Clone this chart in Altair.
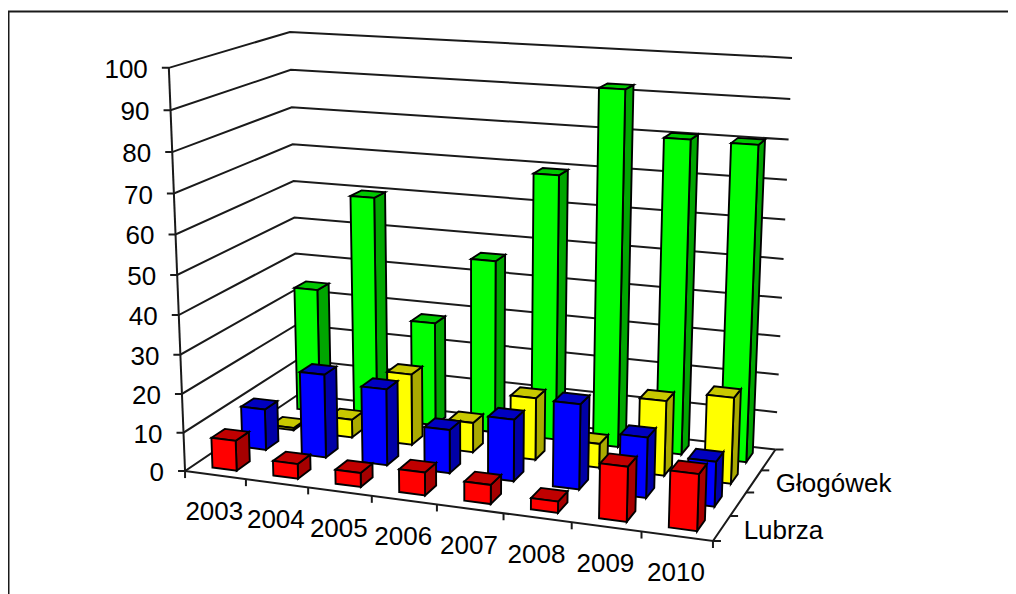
import numpy as np
import pandas as pd
import altair as alt

years = ["2003", "2004", "2005", "2006", "2007", "2008", "2009", "2010"]
depth_labels = ["Lubrza", "", "Głogówek", ""]
red = [7.8, 3.8, 3.6, 5.8, 4.8, 2.8, 13.5, 13.8]
blue = [10.8, 21.8, 19.8, 11.2, 15.8, 21.6, 15.2, 11.2]
yellow = [0.6, 4.8, 18.8, 7.8, 16.2, 6.2, 19.2, 21.9]
green = [33.8, 60, 27.9, 46, 69.5, 92, 80.7, 80.5]
y_ticks = [0, 10, 20, 30, 40, 50, 60, 70, 80, 90, 100]

series = [red, blue, yellow, green]
front_cols = ["#ff0000", "#0000ff", "#ffff00", "#00ff00"]
top_cols = ["#c00000", "#0000c0", "#c8c800", "#00c800"]
side_cols = ["#a60000", "#0000a6", "#aaaa00", "#00a600"]

# Calibration of the 3D view: (x, depth, value) in unit cube -> page pixels
view_u = [0, 1, 1, 0, 0, 0, 1, 0, 0]
view_v = [0, 0, 1, 1, 0, 1, 1, 0, 1]
view_w = [0, 0, 0, 0, 1, 1, 1, .5, .5]
view_sx = [185, 713, 775.5, 298, 168, 290, 792, 178, 295]
view_sy = [470.5, 541.5, 449, 395, 68, 32, 58, 275, 217]

A, b = [], []
for u, v, w, sx, sy in zip(view_u, view_v, view_w, view_sx, view_sy):
    A.append([u, v, w, 1, 0, 0, 0, 0, -sx * u, -sx * v, -sx * w]); b.append(sx)
    A.append([0, 0, 0, 0, u, v, w, 1, -sy * u, -sy * v, -sy * w]); b.append(sy)
m = np.linalg.lstsq(np.array(A, float), np.array(b, float), rcond=None)[0]
P = np.append(m, 1).reshape(3, 4)


def proj(cat, ser, val):
    h = P @ np.array([cat / 8, ser / 4, val / 100, 1.0])
    return float(h[0] / h[2]), float(h[1] / h[2])


BAR_W = 0.2    # half width of a bar inside its cell
BAR_D = 0.22   # half depth of a bar inside its cell
BAR_C = 0.51   # bar centre inside its cell
features = []


def face(pts, fill):
    ring = [[proj(*p)[0] - 8, proj(*p)[1] - 8] for p in pts]
    ring.append(ring[0])
    features.append({"type": "Feature", "fill": fill, "properties": {},
                     "geometry": {"type": "Polygon", "coordinates": [ring]}})


for s in range(3, -1, -1):
    for c in range(7, -1, -1):
        val = series[s][c]
        c0, c1 = c + BAR_C - BAR_W, c + BAR_C + BAR_W
        s0, s1 = s + .5 - BAR_D, s + .5 + BAR_D
        face([(c1, s0, 0), (c1, s1, 0), (c1, s1, val), (c1, s0, val)], side_cols[s])
        face([(c0, s0, val), (c1, s0, val), (c1, s1, val), (c0, s1, val)], top_cols[s])
        face([(c0, s0, 0), (c1, s0, 0), (c1, s0, val), (c0, s0, val)], front_cols[s])

segs = []


def seg(pts):
    sid = len(set(r["id"] for r in segs))
    for i, (x, y) in enumerate(pts):
        segs.append({"id": sid, "i": i, "x": x, "y": y})


for t in y_ticks:
    a = proj(0, 0, t)
    seg([(a[0] - 7, a[1]), a, proj(0, 4, t), proj(8, 4, t)])
seg([proj(0, 0, 0), proj(0, 0, 100)])
seg([proj(0, 0, 0), proj(8, 0, 0), proj(8, 4, 0)])
for c in range(9):
    p = proj(c, 0, 0)
    seg([p, (p[0], p[1] + 7)])
for s in range(5):
    p = proj(8, s, 0)
    seg([p, (p[0] + 8, p[1])])
seg([(8.5, 12), (8.5, 594)])
seg([(8, 11.5), (1008, 11.5)])

x_scale = alt.Scale(domain=[8, 1008], range=[0, 1000], nice=False, zero=False)
y_scale = alt.Scale(domain=[594, 8], range=[586, 0], nice=False, zero=False)
X = lambda f: alt.X(f, type="quantitative", scale=x_scale, axis=None)
Y = lambda f: alt.Y(f, type="quantitative", scale=y_scale, axis=None)

lines = alt.Chart(pd.DataFrame(segs)).mark_line(color="#1a1a1a", strokeWidth=2).encode(
    x=X("x"), y=Y("y"), detail="id:N", order="i:Q")

bars = alt.Chart(alt.Data(values=features)).mark_geoshape(
    stroke="#000000", strokeWidth=1.9, strokeJoin="miter"
).encode(fill=alt.Fill("fill:N", scale=None)).project(
    type="identity", scale=1, translate=[0, 0])

FONT = "Liberation Sans"
SIZE = 26
ytxt = [{"x": proj(0, 0, t)[0] - 21, "y": proj(0, 0, t)[1] + 2, "t": str(t)} for t in y_ticks]
xtxt = [{"x": proj(i + .5, 0, 0)[0] - 1, "y": proj(i + .5, 0, 0)[1] + 37, "t": y}
        for i, y in enumerate(years)]
dtxt = [{"x": proj(8, i + .5, 0)[0] + 22, "y": proj(8, i + .5, 0)[1] + 3, "t": d}
        for i, d in enumerate(depth_labels) if d]


def text(rows, align):
    return alt.Chart(pd.DataFrame(rows)).mark_text(
        font=FONT, fontSize=SIZE, align=align, baseline="middle", color="#000000"
    ).encode(x=X("x"), y=Y("y"), text="t:N")


chart = alt.layer(lines, bars, text(ytxt, "right"), text(xtxt, "center"), text(dtxt, "left")).properties(
    width=1000, height=586, padding=0, autosize=alt.AutoSizeParams(type="none"),
    background="#ffffff"
).configure_view(stroke=None)

chart.save("out.html", embed_options={"renderer": "svg", "actions": False})
